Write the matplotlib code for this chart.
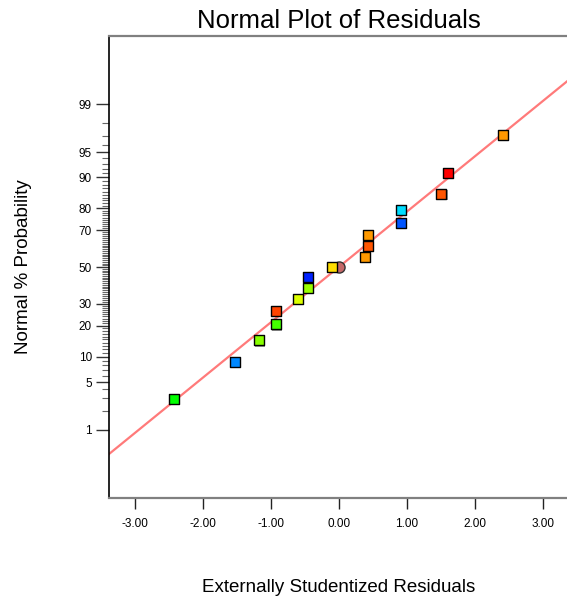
import numpy as np
import matplotlib
matplotlib.use("Agg")
import matplotlib.pyplot as plt
import matplotlib.transforms as mtransforms
from statistics import NormalDist

# ---- data ----
residuals = [-2.43, -1.53, -1.18, -0.93, -0.93, -0.60, -0.45, -0.45, -0.10,
             0.38, 0.43, 0.43, 0.91, 0.91, 1.51, 1.61, 2.41]
probabilities = [2.94, 8.82, 14.71, 20.59, 26.47, 32.35, 38.24, 44.12, 50.0,
                 55.88, 61.76, 67.65, 73.53, 79.41, 85.29, 91.18, 97.06]
point_colors = ["#00ff00", "#0088ff", "#88ff00", "#44ff00", "#ff4400", "#ddff00",
                "#99ff00", "#0022ff", "#ffdd00", "#ff9900", "#ff5500", "#ff9900",
                "#0055ff", "#00ddff", "#ff5500", "#ff0000", "#ff9900"]
center_x = [0.0]
center_p = [50.0]
fit_x = [-3.40, 3.40]
fit_p = [0.358, 99.642]
y_major = [1, 5, 10, 20, 30, 50, 70, 80, 90, 95, 99]
y_minor = [v for v in range(2, 99) if v not in y_major]
x_ticks = [-3, -2, -1, 0, 1, 2, 3]
x_ticklabels = ["-3.00", "-2.00", "-1.00", "0.00", "1.00", "2.00", "3.00"]

plt.rcParams['font.family'] = ['Liberation Sans', 'DejaVu Sans']

nd = NormalDist()
def _fwd(p):
    p = np.asarray(p, dtype=float)
    q = np.clip(p / 100.0, 1e-9, 1 - 1e-9)
    return np.vectorize(nd.inv_cdf)(q) if q.ndim else nd.inv_cdf(float(q))
def _inv(z):
    z = np.asarray(z, dtype=float)
    return np.vectorize(nd.cdf)(z) * 100.0 if z.ndim else nd.cdf(float(z)) * 100.0

W, H = 567, 602
fig = plt.figure(figsize=(W / 100, H / 100), dpi=100)
left_px, right_px, top_px, bot_px = 109.3, 570.0, 36.0, 497.7
ax = fig.add_axes([left_px / W, (H - bot_px) / H, (right_px - left_px) / W, (bot_px - top_px) / H])
ax.set_yscale('function', functions=(_fwd, _inv))

px_per_unit = 67.95
x0 = -3.378
ax.set_xlim(x0, x0 + (right_px - left_px) / px_per_unit)
ax.set_ylim(_inv(-3.30), _inv(3.305))

ax.plot(fit_x, fit_p, color="#ff7a7a", lw=1.6, zorder=2, solid_capstyle='butt')

ax.plot(center_x, center_p, 'o', ms=8, mfc="#c46868", mec="#333333", mew=1.0, zorder=3)

shadow = mtransforms.offset_copy(ax.transData, fig=fig, x=1.2, y=-1.2, units='dots')
ax.scatter(residuals, probabilities, marker='s', s=52, c="#9a9a9a", edgecolors='none',
           transform=shadow, zorder=3.5)
ax.scatter(residuals, probabilities, marker='s', s=52, c=point_colors,
           edgecolors='black', linewidths=1.0, zorder=4)

ax.set_yticks(y_major)
ax.set_yticklabels([str(v) for v in y_major])
ax.set_yticks(y_minor, minor=True)
ax.set_xticks(x_ticks)
ax.set_xticklabels(x_ticklabels)
ax.xaxis.set_minor_locator(matplotlib.ticker.NullLocator())

ax.tick_params(axis='y', which='major', direction='out', length=9.5, width=1.0,
               color='#333333', labelsize=8.5, pad=3)
ax.tick_params(axis='y', which='minor', direction='out', length=4.8, width=0.8,
               color='#666666')
ax.tick_params(axis='x', which='major', direction='out', length=8, width=1.0,
               color='#222222', labelsize=8.5, pad=6.5)

for s in ['top', 'bottom']:
    ax.spines[s].set_color('#808080')
    ax.spines[s].set_linewidth(1.6)
ax.spines['left'].set_color('black')
ax.spines['left'].set_linewidth(1.2)
ax.spines['right'].set_visible(False)

fig.text(338.5 / W, (H - 28) / H, "Normal Plot of Residuals", ha='center',
         va='baseline', fontsize=18.5)
fig.text(338.5 / W, (H - 591.5) / H, "Externally Studentized Residuals", ha='center',
         va='baseline', fontsize=13.5)
fig.text(24 / W, (H - 267) / H, "Normal % Probability", ha='center', va='center',
         rotation=90, fontsize=13.5)

fig.savefig("out.png", dpi=100)
